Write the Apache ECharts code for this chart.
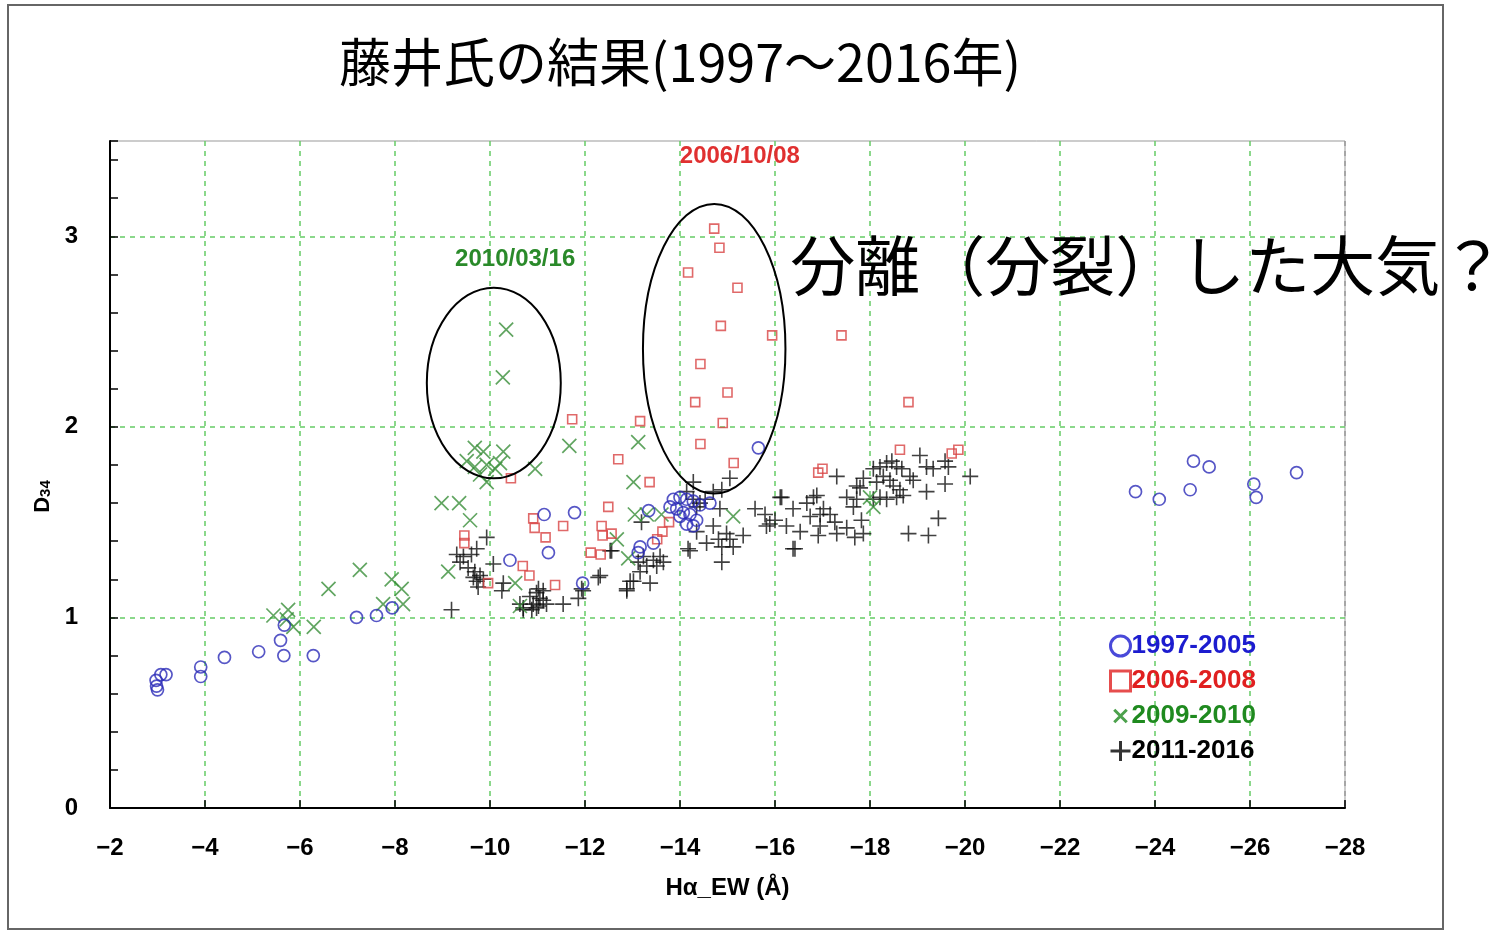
<!DOCTYPE html>
<html>
<head>
<meta charset="utf-8">
<script src="https://cdn.jsdelivr.net/npm/echarts@6/dist/echarts.min.js"></script>
<style>
  body { margin: 0; background: #fff; }
  #main { width: 1493px; height: 935px; }
</style>
</head>
<body>
<div id="main"></div>
<script>
// 系列データ [Hα_EW, D34]
const names = ["1997-2005", "2006-2008", "2009-2010", "2011-2016"];

const blue = [
  [-2.98, 0.64], [-3.0, 0.62], [-2.97, 0.67], [-3.07, 0.70], [-3.18, 0.70],
  [-3.91, 0.74], [-3.91, 0.69], [-4.41, 0.79], [-5.13, 0.82], [-5.66, 0.80], [-5.59, 0.88], [-5.67, 0.96], [-6.28, 0.80],
  [-7.19, 1.00], [-7.61, 1.01], [-7.94, 1.05],
  [-10.42, 1.30], [-11.14, 1.54], [-11.78, 1.55], [-11.23, 1.34], [-11.95, 1.18],
  [-13.34, 1.56], [-13.44, 1.39], [-13.16, 1.37], [-13.12, 1.34],
  [-13.86, 1.62], [-14.0, 1.63], [-14.14, 1.62], [-14.28, 1.61], [-14.42, 1.59], [-14.63, 1.60], [-13.79, 1.58],
  [-13.93, 1.57], [-14.07, 1.55], [-14.21, 1.54], [-14.35, 1.51], [-14.14, 1.49], [-14.28, 1.48], [-14.0, 1.53],
  [-15.65, 1.89],
  [-23.59, 1.66], [-24.09, 1.62], [-24.81, 1.82], [-25.14, 1.79], [-24.74, 1.67], [-26.08, 1.70], [-26.13, 1.63], [-26.98, 1.76]
];

const red = [
  [-14.72, 3.04], [-14.83, 2.94], [-14.17, 2.81], [-15.21, 2.73], [-14.86, 2.53], [-15.94, 2.48], [-17.40, 2.48],
  [-14.43, 2.33], [-15.0, 2.18], [-14.32, 2.13], [-18.81, 2.13], [-14.90, 2.02], [-13.16, 2.03], [-12.70, 1.83],
  [-14.43, 1.91], [-15.13, 1.81], [-11.73, 2.04],
  [-18.63, 1.88], [-19.72, 1.86], [-19.86, 1.88], [-16.91, 1.76], [-17.0, 1.78],
  [-13.36, 1.71], [-12.49, 1.58], [-12.35, 1.48], [-12.37, 1.43], [-12.56, 1.44], [-12.12, 1.34], [-12.33, 1.33],
  [-13.63, 1.45], [-13.52, 1.41], [-13.77, 1.50],
  [-10.44, 1.73], [-10.91, 1.52], [-10.94, 1.47], [-11.54, 1.48], [-11.17, 1.42], [-9.46, 1.43], [-9.46, 1.39],
  [-10.69, 1.27], [-10.83, 1.22], [-11.37, 1.17], [-9.96, 1.18]
];

const green = [
  [-10.34, 2.51], [-10.27, 2.26], [-11.67, 1.90], [-9.68, 1.89], [-9.86, 1.87], [-10.28, 1.87], [-9.51, 1.82],
  [-9.68, 1.79], [-9.93, 1.80], [-10.11, 1.78], [-10.21, 1.81], [-9.79, 1.75], [-9.93, 1.71], [-10.95, 1.78],
  [-8.98, 1.60], [-9.35, 1.60], [-9.58, 1.51], [-9.12, 1.24], [-10.53, 1.18], [-10.63, 1.06],
  [-13.02, 1.71], [-13.12, 1.92], [-13.05, 1.54], [-13.30, 1.54], [-13.61, 1.54], [-12.67, 1.41], [-12.91, 1.31],
  [-15.12, 1.53], [-18.0, 1.63], [-18.07, 1.58],
  [-5.44, 1.01], [-5.75, 1.04], [-5.86, 0.95], [-5.72, 0.99], [-6.29, 0.95], [-6.60, 1.15], [-7.26, 1.25],
  [-7.93, 1.20], [-8.14, 1.15], [-8.17, 1.07], [-7.75, 1.07]
];

const black = [
  [-9.19, 1.04], [-9.30, 1.33], [-9.44, 1.32], [-9.61, 1.33], [-9.72, 1.36], [-9.37, 1.29], [-9.54, 1.26], [-9.68, 1.24],
  [-9.79, 1.22], [-9.65, 1.21], [-9.72, 1.19], [-9.75, 1.16], [-9.86, 1.20], [-9.93, 1.42], [-10.07, 1.28], [-10.28, 1.18],
  [-10.25, 1.14], [-10.63, 1.07], [-10.70, 1.04], [-10.84, 1.11], [-10.91, 1.07], [-10.98, 1.13], [-11.05, 1.10],
  [-11.02, 1.06], [-11.12, 1.14], [-11.19, 1.07], [-10.88, 1.04], [-11.02, 1.15], [-11.12, 1.09], [-10.98, 1.05],
  [-10.70, 1.05], [-11.54, 1.07], [-11.86, 1.10], [-11.96, 1.14], [-11.93, 1.15], [-12.28, 1.21], [-12.32, 1.22],
  [-12.53, 1.35], [-12.56, 1.35], [-12.88, 1.15], [-13.02, 1.19], [-13.37, 1.18], [-12.95, 1.19], [-12.88, 1.14],
  [-13.19, 1.50], [-13.12, 1.29], [-13.23, 1.32], [-13.30, 1.27], [-13.44, 1.30], [-13.58, 1.32], [-13.65, 1.29],
  [-13.51, 1.27], [-13.16, 1.24],
  [-14.17, 1.36], [-14.28, 1.71], [-14.14, 1.66], [-15.05, 1.73], [-14.70, 1.66], [-14.88, 1.67], [-14.28, 1.62],
  [-14.42, 1.60], [-14.53, 1.62], [-14.35, 1.58], [-14.84, 1.57], [-14.35, 1.45], [-14.70, 1.48], [-14.56, 1.39],
  [-14.81, 1.41], [-14.98, 1.44], [-14.88, 1.37], [-15.12, 1.37], [-15.05, 1.41], [-14.21, 1.35], [-14.88, 1.29],
  [-15.33, 1.43],
  [-15.58, 1.57], [-15.79, 1.54], [-15.89, 1.49], [-16.0, 1.51], [-15.82, 1.48], [-16.24, 1.48], [-16.14, 1.63],
  [-16.11, 1.63], [-16.38, 1.57], [-16.53, 1.45], [-16.42, 1.36], [-16.38, 1.36],
  [-16.67, 1.60], [-16.81, 1.63], [-16.88, 1.64], [-16.95, 1.54], [-16.74, 1.53], [-17.02, 1.57], [-17.16, 1.54],
  [-17.26, 1.50], [-16.95, 1.48], [-17.30, 1.44], [-16.91, 1.43],
  [-17.30, 1.74], [-17.51, 1.63], [-17.72, 1.62], [-17.86, 1.73], [-17.79, 1.68], [-17.72, 1.69], [-17.65, 1.58],
  [-17.82, 1.51], [-17.86, 1.44], [-17.68, 1.42], [-17.51, 1.47],
  [-18.07, 1.78], [-18.21, 1.79], [-18.35, 1.81], [-18.46, 1.82], [-18.56, 1.79], [-18.67, 1.78], [-18.28, 1.74],
  [-18.42, 1.72], [-18.14, 1.71], [-18.49, 1.69], [-18.63, 1.67], [-18.21, 1.63], [-18.35, 1.62], [-18.07, 1.62],
  [-18.56, 1.63], [-18.70, 1.64],
  [-18.84, 1.74], [-18.91, 1.72], [-19.05, 1.85], [-19.19, 1.79], [-19.33, 1.78], [-19.58, 1.82], [-19.65, 1.79],
  [-19.19, 1.66], [-19.58, 1.70], [-19.44, 1.52], [-20.11, 1.74], [-18.81, 1.44], [-19.23, 1.43]
];

// 注記（データ座標）
const ellipses = [
  { cx: -10.08, cy: 2.23, rx: 1.41, ry: 0.50 },
  { cx: -14.72, cy: 2.41, rx: 1.50, ry: 0.76 }
];
const notes = [
  { text: "2010/03/16", x: -10.53, y: 2.88, color: "#2a8a2a" },
  { text: "2006/10/08", x: -15.26, y: 3.42, color: "#e03030" }
];

const narrow = "'Liberation Sans Narrow', 'Liberation Sans', Arial, sans-serif";
const cjk = "'Noto Sans CJK JP', sans-serif";
const gridGreen = "#66cc66";
const crossPath = "path://M0,0L12,12M12,0L0,12";
const plusPath = "path://M7,0L7,14M0,7L14,7";

const colors = { blue: "#2c2cb8", red: "#d84444", green: "#3a8f3a", black: "#111" };

const hollow = (c, w) => ({ color: "rgba(0,0,0,0)", borderColor: c, borderWidth: w });

const option = {
  animation: false,
  backgroundColor: "#fff",
  title: {
    text: "藤井氏の結果(1997〜2016年)",
    left: 334,
    top: 31,
    textStyle: { fontFamily: cjk, fontSize: 52, fontWeight: "normal", color: "#000" }
  },
  legend: {
    orient: "vertical",
    left: 1104,
    top: 628,
    itemWidth: 20,
    itemHeight: 20,
    itemGap: 9,
    selectedMode: false,
    textStyle: { fontFamily: narrow, fontSize: 26, fontWeight: "bold", padding: [0, 0, 0, -4] },
    data: [
      { name: names[0], icon: "circle", itemStyle: hollow("#1c1ccf", 3), textStyle: { color: "#1c1ccf" } },
      { name: names[1], icon: "rect", itemStyle: hollow("#e02020", 3), textStyle: { color: "#e02020" } },
      { name: names[2], icon: "path://M-3,-3M0,0L10,10M10,0L0,10M13,13", itemStyle: hollow("#1f8a1f", 3), textStyle: { color: "#1f8a1f" } },
      { name: names[3], icon: plusPath, itemStyle: hollow("#000", 3), textStyle: { color: "#000" } }
    ]
  },
  grid: {
    left: 110,
    right: 148,
    top: 141,
    bottom: 127,
    show: true,
    borderColor: "#999",
    borderWidth: 1
  },
  xAxis: {
    type: "value",
    min: -28,
    max: -2,
    interval: 2,
    inverse: true,
    name: "Hα_EW (Å)",
    nameLocation: "middle",
    nameGap: 68,
    nameTextStyle: { fontFamily: narrow, fontSize: 24, fontWeight: "bold", color: "#000" },
    axisLine: { lineStyle: { color: "#000", width: 2 } },
    axisTick: { inside: true, length: 8, lineStyle: { color: "#000", width: 1.5 } },
    axisLabel: {
      margin: 28,
      fontFamily: narrow,
      fontSize: 24,
      fontWeight: "bold",
      color: "#000",
      formatter: (v) => String(v).replace("-", "\u2212")
    },
    splitLine: {
      show: true,
      lineStyle: {
        color: ["#999"].concat(Array(13).fill(gridGreen)),
        type: [5, 5],
        width: 1.5
      }
    }
  },
  yAxis: {
    type: "value",
    min: 0,
    max: 3.5,
    interval: 0.2,
    name: "{d|D}{s|34}",
    nameLocation: "middle",
    nameGap: 46,
    nameRotate: 90,
    nameTextStyle: {
      padding: [0, 44, 0, 0],
      rich: {
        d: { fontFamily: narrow, fontSize: 22, fontWeight: "bold", color: "#000" },
        s: { fontFamily: narrow, fontSize: 15, fontWeight: "bold", color: "#000", padding: [6, 0, 0, 0] }
      }
    },
    axisLine: { lineStyle: { color: "#000", width: 2 } },
    axisTick: { inside: true, length: 8, lineStyle: { color: "#000", width: 1.5 } },
    axisLabel: {
      margin: 32,
      fontFamily: narrow,
      fontSize: 24,
      fontWeight: "bold",
      color: "#000",
      formatter: (v) => (Math.abs(v - Math.round(v)) < 1e-6 ? String(Math.round(v)) : "")
    },
    splitLine: {
      show: true,
      lineStyle: {
        color: [gridGreen, "rgba(0,0,0,0)", "rgba(0,0,0,0)", "rgba(0,0,0,0)", "rgba(0,0,0,0)"],
        type: [5, 5],
        width: 1.5
      }
    }
  },
  series: [
    {
      name: names[3], type: "scatter", data: black, symbol: plusPath, symbolSize: 16,
      itemStyle: hollow(colors.black, 1.6), emphasis: { disabled: true }
    },
    {
      name: names[2], type: "scatter", data: green, symbol: crossPath, symbolSize: 14,
      itemStyle: hollow(colors.green, 1.7), emphasis: { disabled: true }
    },
    {
      name: names[1], type: "scatter", data: red, symbol: "rect", symbolSize: 9,
      itemStyle: hollow(colors.red, 1.6), emphasis: { disabled: true }
    },
    {
      name: names[0], type: "scatter", data: blue, symbol: "circle", symbolSize: 12,
      itemStyle: hollow(colors.blue, 1.7), emphasis: { disabled: true }
    }
  ]
};

const chart = echarts.init(document.getElementById("main"), null, { renderer: "canvas" });
chart.setOption(option);

const toPx = (x, y) => chart.convertToPixel({ xAxisIndex: 0, yAxisIndex: 0 }, [x, y]);

const graphics = [
  {
    type: "rect",
    shape: { x: 8, y: 5, width: 1435, height: 924 },
    style: { fill: "none", stroke: "#666", lineWidth: 2 },
    silent: true
  }
];

ellipses.forEach((e) => {
  const c = toPx(e.cx, e.cy);
  const r = toPx(e.cx - e.rx, e.cy + e.ry);
  graphics.push({
    type: "ellipse",
    shape: { cx: c[0], cy: c[1], rx: Math.abs(r[0] - c[0]), ry: Math.abs(c[1] - r[1]) },
    style: { fill: "none", stroke: "#000", lineWidth: 2 },
    silent: true,
    z: 10
  });
});

notes.forEach((n) => {
  const p = toPx(n.x, n.y);
  graphics.push({
    type: "text",
    x: p[0],
    y: p[1],
    style: {
      text: n.text,
      fill: n.color,
      font: "bold 24px " + narrow,
      align: "center",
      verticalAlign: "middle"
    },
    silent: true,
    z: 10
  });
});

const bigPos = toPx(-16.32, 2.85);
graphics.push({
  type: "text",
  x: bigPos[0],
  y: bigPos[1],
  style: {
    text: "分離（分裂）した大気？",
    fill: "#000",
    font: "65px " + cjk,
    align: "left",
    verticalAlign: "middle"
  },
  silent: true,
  z: 10
});

chart.setOption({ graphic: graphics });
</script>
</body>
</html>
